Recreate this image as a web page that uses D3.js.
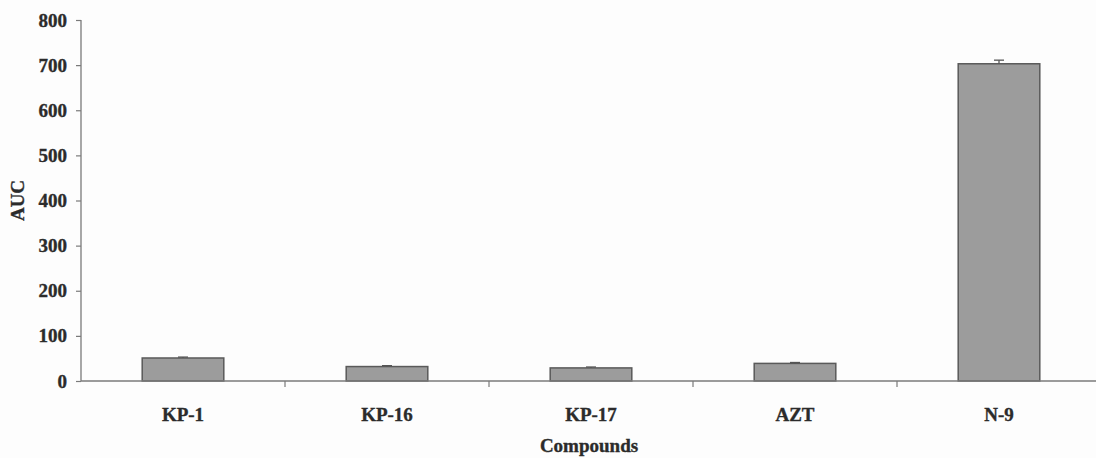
<!DOCTYPE html>
<html>
<head>
<meta charset="utf-8">
<script src="https://cdn.jsdelivr.net/npm/d3@7"></script>
<style>
  html, body { margin: 0; padding: 0; background: #fdfdfd; }
  svg { display: block; }
  text { font-family: "Liberation Serif", "Times New Roman", serif; font-weight: bold; fill: #2b2b2b; stroke: #2b2b2b; stroke-width: 0.35px; }
</style>
</head>
<body>
<svg id="chart" width="1096" height="458"></svg>
<script>
// Area under the curve per compound, with standard error
const compounds = ["KP-1", "KP-16", "KP-17", "AZT", "N-9"];
const aucValues = [51, 32, 29, 39, 703];
const aucErrors = [2, 2, 2, 2, 8];
const yTicks = [0, 100, 200, 300, 400, 500, 600, 700, 800];

const svg = d3.select("#chart");
const margin = { left: 81, top: 20, bottom: 381 };
const xRight = 1101;

const x = d3.scaleBand()
  .domain(compounds)
  .range([margin.left, xRight])
  .paddingInner(0.6)
  .paddingOuter(0.3);

const y = d3.scaleLinear().domain([0, 800]).range([margin.bottom, margin.top]);

const axisColor = "#7a7a7a";

// y axis
const yAxis = svg.append("g")
  .attr("transform", `translate(${margin.left},0)`)
  .call(d3.axisLeft(y).tickValues(yTicks).tickSize(5).tickPadding(9).tickFormat(d3.format("d")));
yAxis.select(".domain").attr("stroke", axisColor).attr("stroke-width", 1.3).attr("d", `M0,${margin.top}V${margin.bottom}`);
yAxis.selectAll(".tick line").attr("stroke", axisColor).attr("stroke-width", 1.2);
yAxis.selectAll(".tick text").attr("font-size", 19).attr("fill", "#2b2b2b")
  .style("font-family", "'Liberation Serif', serif").style("font-weight", "bold");

// category separators on the x axis
const step = x.step();
const sepPositions = compounds.slice(1).map(c => x(c) - step * x.paddingInner() / 2);
svg.append("g").selectAll("line").data(sepPositions).join("line")
  .attr("x1", d => d).attr("x2", d => d)
  .attr("y1", margin.bottom).attr("y2", margin.bottom + 6)
  .attr("stroke", axisColor).attr("stroke-width", 1.2);

// bars
svg.append("g").selectAll("rect").data(compounds).join("rect")
  .attr("x", d => x(d))
  .attr("y", (d, i) => y(aucValues[i]))
  .attr("width", x.bandwidth())
  .attr("height", (d, i) => y(0) - y(aucValues[i]))
  .attr("fill", "#9c9c9c")
  .attr("stroke", "#5a5a5a")
  .attr("stroke-width", 1.5);

// error bars
const eg = svg.append("g").attr("stroke", "#555").attr("stroke-width", 1.3);
compounds.forEach((c, i) => {
  const cx = x(c) + x.bandwidth() / 2;
  const top = y(aucValues[i] + aucErrors[i]);
  eg.append("line").attr("x1", cx).attr("x2", cx).attr("y1", y(aucValues[i])).attr("y2", top);
  eg.append("line").attr("x1", cx - 5).attr("x2", cx + 5).attr("y1", top).attr("y2", top);
});

// x axis baseline
svg.append("line")
  .attr("x1", margin.left).attr("x2", 1096)
  .attr("y1", margin.bottom).attr("y2", margin.bottom)
  .attr("stroke", axisColor).attr("stroke-width", 1.3);

// category labels
svg.append("g").selectAll("text").data(compounds).join("text")
  .attr("x", d => x(d) + x.bandwidth() / 2)
  .attr("y", 421)
  .attr("text-anchor", "middle")
  .attr("font-size", 19)
  .text(d => d);

// axis titles
svg.append("text")
  .attr("x", (margin.left + xRight) / 2 - 2).attr("y", 452)
  .attr("text-anchor", "middle").attr("font-size", 19)
  .text("Compounds");

svg.append("text")
  .attr("transform", `translate(24,${(margin.top + margin.bottom) / 2}) rotate(-90)`)
  .attr("text-anchor", "middle").attr("font-size", 19)
  .text("AUC");
</script>
</body>
</html>
